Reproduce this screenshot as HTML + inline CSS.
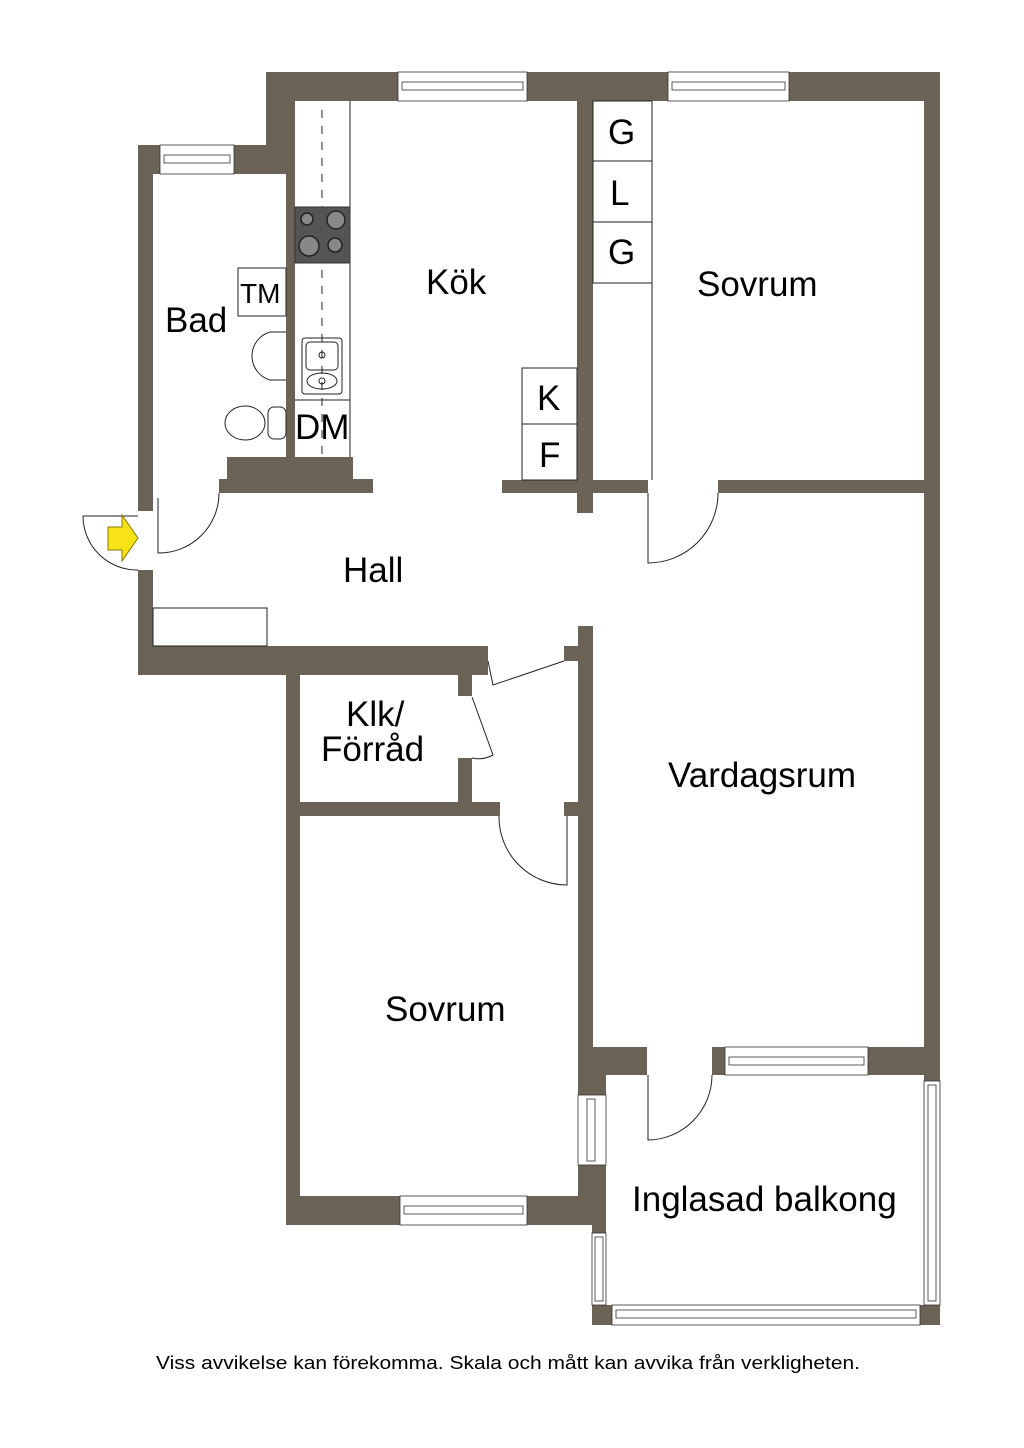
<!DOCTYPE html>
<html><head><meta charset="utf-8"><style>
html,body{margin:0;padding:0;background:#fff;}
svg{display:block;}
text{font-family:"Liberation Sans",Arial,sans-serif;fill:#000;}
</style></head><body>
<svg width="1024" height="1448" viewBox="0 0 1024 1448" xmlns="http://www.w3.org/2000/svg">
<g fill="#6b6356">
<rect x="266" y="72" width="674" height="29"/>
<rect x="266" y="72" width="28" height="102"/>
<rect x="138" y="145" width="156" height="29"/>
<rect x="138" y="145" width="15" height="366"/>
<rect x="138" y="570" width="15" height="105"/>
<rect x="286" y="101" width="9" height="390"/>
<rect x="227" y="457" width="126" height="24"/>
<rect x="219" y="479" width="154" height="14"/>
<rect x="502" y="480" width="91" height="13"/>
<rect x="577" y="101" width="16" height="412"/>
<rect x="593" y="480" width="55" height="13"/>
<rect x="718" y="480" width="222" height="13"/>
<rect x="924" y="72" width="16" height="1003"/>
<rect x="138" y="646" width="350" height="29"/>
<rect x="286" y="646" width="202" height="15"/>
<rect x="286" y="646" width="14" height="579"/>
<rect x="458" y="661" width="14" height="35"/>
<rect x="458" y="758" width="14" height="58"/>
<rect x="286" y="802" width="214" height="14"/>
<rect x="564" y="802" width="14" height="14"/>
<rect x="564" y="646" width="14" height="15"/>
<rect x="578" y="626" width="15" height="470"/>
<rect x="578" y="1165" width="28" height="60"/>
<rect x="578" y="1047" width="28" height="48"/>
<rect x="286" y="1196" width="320" height="29"/>
<rect x="593" y="1047" width="54" height="28"/>
<rect x="712" y="1047" width="13" height="28"/>
<rect x="868" y="1047" width="72" height="28"/>
<rect x="592" y="1225" width="14" height="8"/>
<rect x="592" y="1305" width="20" height="20"/>
<rect x="920" y="1305" width="20" height="20"/>
<rect x="924" y="1075" width="16" height="6"/>
</g>
<g fill="#fff" stroke="#333" stroke-width="0.8">
<rect x="398" y="72" width="129" height="29"/><rect x="402" y="82" width="121" height="8"/>
<rect x="668" y="72" width="121" height="29"/><rect x="672" y="82" width="113" height="8"/>
<rect x="160" y="145" width="74" height="29"/><rect x="164" y="155" width="66" height="8"/>
<rect x="400" y="1196" width="127" height="29"/><rect x="404" y="1206" width="119" height="8"/>
<rect x="725" y="1047" width="143" height="28"/><rect x="729" y="1057" width="135" height="8"/>
<rect x="578" y="1095" width="28" height="70"/><rect x="587" y="1099" width="8" height="62"/>
<rect x="592" y="1233" width="14" height="72"/><rect x="595" y="1237" width="8" height="64"/>
<rect x="612" y="1305" width="308" height="20"/><rect x="616" y="1310" width="300" height="8"/>
<rect x="924" y="1081" width="16" height="224"/><rect x="928" y="1085" width="8" height="216"/>
</g>
<g fill="none" stroke="#222" stroke-width="1">
<line x1="350" y1="101" x2="350" y2="457"/>
<line x1="322" y1="110" x2="322" y2="457" stroke-dasharray="8,8"/>
<line x1="295" y1="400" x2="350" y2="400"/>
<rect x="593" y="101" width="59" height="182"/>
<line x1="593" y1="161" x2="652" y2="161"/><line x1="593" y1="222" x2="652" y2="222"/>
<line x1="652" y1="283" x2="652" y2="480"/>
<rect x="522" y="368" width="55" height="112"/><line x1="522" y1="424" x2="577" y2="424"/>
<rect x="238" y="268" width="48" height="48"/>
<rect x="153" y="608" width="114" height="38"/>
<path d="M158 498 V553 A60 60 0 0 0 219 493"/>
<path d="M648 493 V563 A70 70 0 0 0 718 493"/>
<path d="M499 816 A68 68 0 0 0 567 885 V816"/>
<path d="M648 1075 V1140 A65 65 0 0 0 712 1075"/>
<path d="M488 661 L493 685 L564 661"/>
<path d="M472 697 L493 755 A30 30 0 0 1 472 758"/>
<path d="M138 516 H83 A54 54 0 0 0 138 570"/>
<rect x="302" y="338" width="40" height="56" rx="3"/>
<rect x="306" y="342" width="32" height="28" rx="4"/>
<ellipse cx="322" cy="381" rx="15" ry="8"/>
<circle cx="322" cy="355" r="3"/><circle cx="322" cy="381" r="3"/>
<path d="M286 332 H270 A25 25 0 0 0 270 380 H286"/>
<ellipse cx="245" cy="423" rx="20" ry="17"/>
<rect x="268" y="407" width="18" height="32" rx="6"/>
</g>
<rect x="295" y="207" width="55" height="56" fill="#555" stroke="#333"/>
<g fill="#888" stroke="#222" stroke-width="1.5">
<circle cx="307" cy="219" r="6"/><circle cx="336" cy="220" r="9"/>
<circle cx="309" cy="246" r="10"/><circle cx="335" cy="245" r="7"/>
</g>
<polygon points="122,515 138,538 122,561 122,550 108,550 108,527 122,527" fill="#f7e316" stroke="#8a7a00"/>
<g font-size="35">
<text x="426" y="294">Kök</text>
<text x="165" y="332">Bad</text>
<text x="343" y="582">Hall</text>
<text x="697" y="296">Sovrum</text>
<text x="668" y="787">Vardagsrum</text>
<text x="385" y="1021">Sovrum</text>
<text x="632" y="1211">Inglasad balkong</text>
<text x="346" y="726">Klk/</text>
<text x="321" y="761">Förråd</text>
<text x="608" y="144">G</text>
<text x="610" y="205">L</text>
<text x="608" y="264">G</text>
<text x="537" y="410">K</text>
<text x="539" y="467">F</text>
<text x="295" y="439">DM</text>
</g>
<text x="240" y="303" font-size="28">TM</text>
<text x="156" y="1369" font-size="18" textLength="704" lengthAdjust="spacingAndGlyphs">Viss avvikelse kan förekomma. Skala och mått kan avvika från verkligheten.</text>
</svg>
</body></html>
